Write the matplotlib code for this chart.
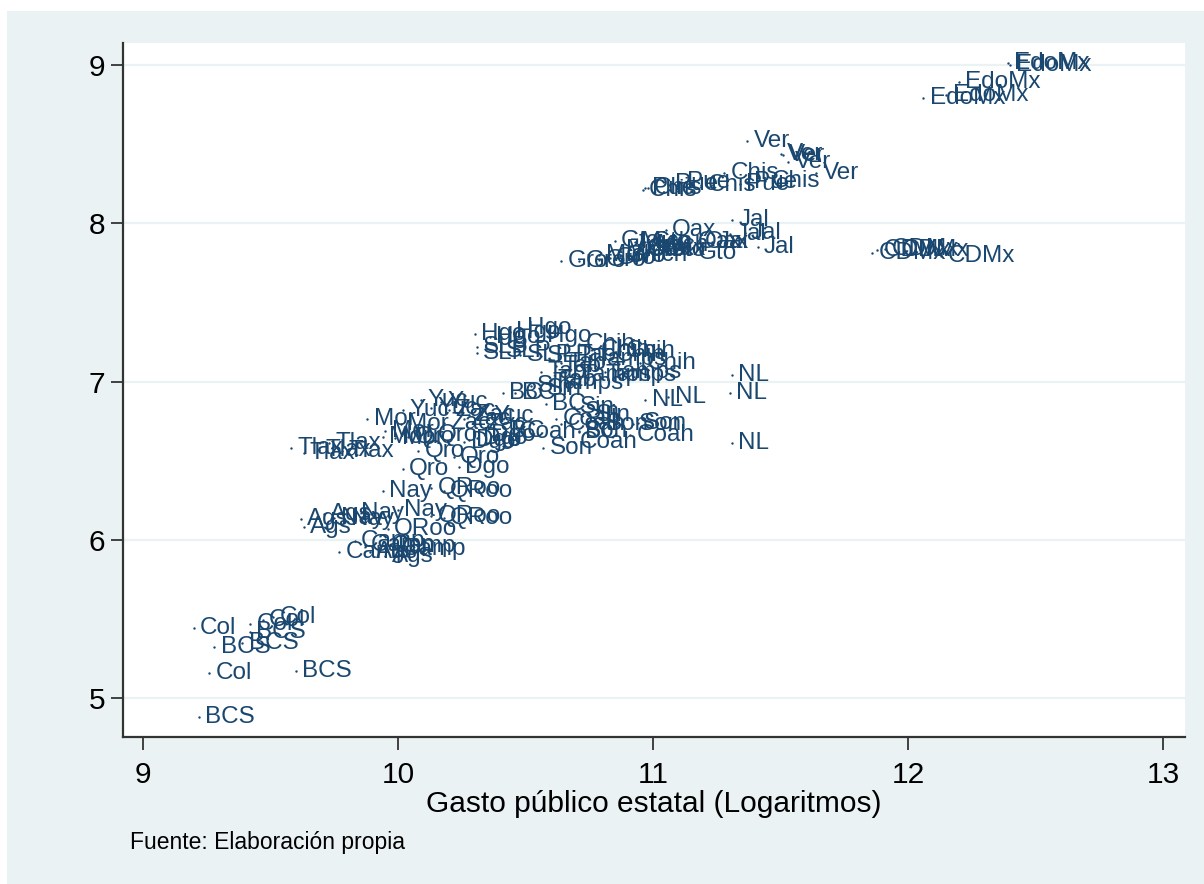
import matplotlib
matplotlib.use("Agg")
import matplotlib.pyplot as plt
from matplotlib.patches import Rectangle

plt.rcParams['font.family'] = ['Liberation Sans', 'DejaVu Sans']

# Datos: gasto público estatal (log) vs. variable en log, por entidad y año
estados = (['EdoMx'] * 5 + ['Ver'] * 5 + ['Chis'] * 5 + ['Pue'] * 5 + ['Jal'] * 5
           + ['Oax'] * 5 + ['Gto'] * 5 + ['Mich'] * 5 + ['Gro'] * 5 + ['CDMx'] * 5
           + ['Hgo'] * 5 + ['SLP'] * 5 + ['Chih'] * 5 + ['Tab'] * 5 + ['Tamps'] * 5
           + ['NL'] * 5 + ['Sin'] * 5 + ['BC'] * 5 + ['Son'] * 5 + ['Coah'] * 5
           + ['Yuc'] * 5 + ['Zac'] * 5 + ['Dgo'] * 5 + ['Mor'] * 5 + ['Qro'] * 5
           + ['Tlax'] * 5 + ['Nay'] * 5 + ['QRoo'] * 5 + ['Ags'] * 5 + ['Camp'] * 5
           + ['BCS'] * 5 + ['Col'] * 5)

gasto = [12.39, 12.40, 12.20, 12.15, 12.06,      # EdoMx
         11.37, 11.50, 11.51, 11.53, 11.64,      # Ver
         10.96, 10.98, 11.19, 11.28, 11.44,      # Chis
         10.97, 11.06, 11.11, 11.34, 11.37,      # Pue
         11.31, 11.30, 11.36, 11.23, 11.41,      # Jal
         11.05, 11.15, 11.18, 10.95, 11.01,      # Oax
         10.85, 10.95, 11.03, 11.15, 10.97,      # Gto
         10.93, 10.99, 10.87, 10.79, 10.91,      # Mich
         10.64, 10.71, 10.79, 10.83, 10.87,      # Gro
         11.86, 11.88, 11.91, 11.95, 12.13,      # CDMx
         10.30, 10.36, 10.48, 10.56, 10.44,      # Hgo
         10.31, 10.31, 10.40, 10.48, 10.56,      # SLP
         10.71, 10.77, 10.87, 10.95, 10.83,      # Chih
         10.56, 10.60, 10.64, 10.68, 10.62,      # Tab
         10.58, 10.69, 10.79, 10.81, 10.75,      # Tamps
         11.31, 11.30, 10.97, 11.06, 11.31,      # NL
         10.52, 10.56, 10.69, 10.71, 10.75,      # Sin
         10.41, 10.46, 10.58, 10.42, 10.71,      # BC
         10.57, 10.71, 10.92, 10.94, 10.79,      # Son
         10.45, 10.62, 10.69, 10.91, 10.64,      # Coah
         10.02, 10.09, 10.17, 10.35, 10.13,      # Yuc
         10.18, 10.20, 10.26, 10.32, 10.28,      # Zac
         10.26, 10.24, 10.28, 10.31, 10.34,      # Dgo
         9.88, 9.94, 9.95, 10.01, 9.99,          # Mor
         10.02, 10.22, 10.08, 10.04, 10.13,      # Qro
         9.58, 9.63, 9.73, 9.78, 9.69,           # Tlax
         9.94, 10.00, 9.83, 9.75, 9.79,          # Nay
         10.13, 10.18, 10.13, 10.18, 9.96,       # QRoo
         9.62, 9.63, 9.71, 9.89, 9.95,           # Ags
         9.77, 9.83, 9.87, 9.95, 9.99,           # Camp
         9.28, 9.39, 9.42, 9.60, 9.22,           # BCS
         9.20, 9.26, 9.42, 9.47, 9.51]           # Col

valor = [9.01, 9.00, 8.89, 8.81, 8.79,           # EdoMx
         8.52, 8.44, 8.43, 8.39, 8.32,           # Ver
         8.21, 8.22, 8.24, 8.32, 8.27,           # Chis
         8.22, 8.25, 8.26, 8.25, 8.26,           # Pue
         8.02, 7.93, 7.94, 7.88, 7.85,           # Jal
         7.96, 7.88, 7.88, 7.83, 7.84,           # Oax
         7.89, 7.84, 7.83, 7.81, 7.88,           # Gto
         7.88, 7.86, 7.83, 7.80, 7.80,           # Mich
         7.76, 7.76, 7.77, 7.78, 7.79,           # Gro
         7.81, 7.83, 7.84, 7.83, 7.79,           # CDMx
         7.30, 7.28, 7.34, 7.29, 7.31,           # Hgo
         7.18, 7.22, 7.19, 7.17, 7.16,           # SLP
         7.24, 7.20, 7.19, 7.12, 7.17,           # Chih
         7.06, 7.01, 7.12, 7.17, 7.10,           # Tab
         6.99, 7.04, 7.04, 7.06, 7.14,           # Tamps
         7.04, 6.93, 6.88, 6.90, 6.61,           # NL
         6.97, 6.95, 6.84, 6.81, 6.79,           # Sin
         6.93, 6.93, 6.86, 6.69, 6.68,           # BC
         6.58, 6.69, 6.73, 6.74, 6.73,           # Son
         6.68, 6.76, 6.62, 6.66, 6.73,           # Coah
         6.82, 6.88, 6.87, 6.78, 6.83,           # Yuc
         6.74, 6.82, 6.76, 6.73, 6.79,           # Zac
         6.62, 6.46, 6.63, 6.64, 6.66,           # Dgo
         6.76, 6.65, 6.69, 6.73, 6.64,           # Mor
         6.45, 6.52, 6.56, 6.65, 6.66,           # Qro
         6.58, 6.55, 6.61, 6.56, 6.57,           # Tlax
         6.31, 6.19, 6.17, 6.14, 6.13,           # Nay
         6.33, 6.31, 6.15, 6.14, 6.07,           # QRoo
         6.13, 6.08, 6.16, 5.92, 5.90,           # Ags
         5.92, 5.99, 5.97, 5.96, 5.94,           # Camp
         5.32, 5.35, 5.42, 5.17, 4.88,           # BCS
         5.44, 5.16, 5.47, 5.49, 5.51]           # Col

xticks = [9, 10, 11, 12, 13]
yticks = [5, 6, 7, 8, 9]
xtitle = 'Gasto público estatal (Logaritmos)'
nota = 'Fuente: Elaboración propia'

fondo = '#EAF2F3'
azul = '#1A476F'

fig = plt.figure(figsize=(12.04, 8.84), dpi=100, facecolor='white')
fig.patches.append(Rectangle((7 / 1204, 0), 1 - 7 / 1204, 1 - 11 / 884,
                             transform=fig.transFigure, facecolor=fondo,
                             edgecolor='none', zorder=-10))

ax = fig.add_axes([123 / 1204, 1 - 737 / 884, (1185 - 123) / 1204, (737 - 43) / 884])
ax.set_facecolor('white')

ax.scatter(gasto, valor, s=3, color=azul, marker='o', linewidths=0, zorder=3)
for nombre, x, y in zip(estados, gasto, valor):
    ax.annotate(nombre, (x, y), xytext=(4.5, 0), textcoords='offset points',
                va='center', ha='left', fontsize=17.5, color=azul, zorder=4)

ax.set_xlim(8.9216, 13.086)
ax.set_ylim(4.7536, 9.139)
ax.set_xticks(xticks)
ax.set_yticks(yticks)
ax.grid(axis='y', color=fondo, linewidth=1.6)
ax.set_axisbelow(True)

for lado in ['top', 'right']:
    ax.spines[lado].set_visible(False)
for lado in ['left', 'bottom']:
    ax.spines[lado].set_color('#333333')
    ax.spines[lado].set_linewidth(1.6)

ax.tick_params(axis='both', direction='out', length=9, width=1.3, color='#333333',
               labelsize=21.5, labelcolor='black')
ax.tick_params(axis='y', pad=4)
ax.tick_params(axis='x', pad=8)

ax.set_xlabel(xtitle, fontsize=21.5, labelpad=1)
fig.text(130 / 1204, 1 - 843 / 884, nota, fontsize=16.5, va='center', ha='left')

fig.savefig('out.png', dpi=100, facecolor=fig.get_facecolor())
